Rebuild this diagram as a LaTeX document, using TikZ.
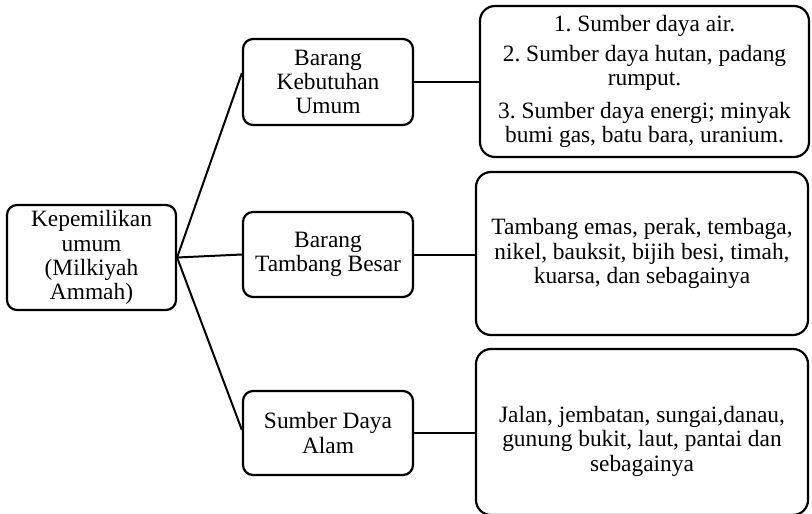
\documentclass[tikz,border=0pt]{standalone}
\usepackage{fontspec}
\setmainfont{Liberation Serif}
\frenchspacing
\begin{document}
\begin{tikzpicture}[x=1pt,y=-1pt,
  every node/.style={font=\fontsize{23.4}{24.2}\selectfont, align=center, inner sep=0pt},
  smallbox/.style={draw, line width=2.2pt, rounded corners=10pt, minimum width=170pt},
  bigbox/.style={draw, line width=2.2pt, rounded corners=15pt},
  conn/.style={line width=2pt}]
\useasboundingbox (0,0) rectangle (812,514);
\node[smallbox, minimum width=169pt, minimum height=105pt] (root) at (91.5,257.5) {Kepemilikan\\umum\\(Milkiyah\\Ammah)};
\node[smallbox, minimum height=86pt] (b1) at (328,82) {Barang\\Kebutuhan\\Umum};
\node[smallbox, minimum height=85pt] (b2) at (328,254.5) {Barang\\Tambang Besar};
\node[smallbox, minimum height=84pt] (b3) at (328,433) {Sumber Daya\\Alam};
\node[bigbox, minimum width=329pt, minimum height=151pt] (r1) at (644.5,81.5)
  {1. Sumber daya air.\\[6pt]2. Sumber daya hutan, padang\\rumput.\\[9pt]3. Sumber daya energi; minyak\\bumi gas, batu bara, uranium.};
\node[bigbox, minimum width=332pt, minimum height=163pt] (r2) at (642,253.5)
  {Tambang emas, perak, tembaga,\\nikel, bauksit, bijih besi, timah,\\kuarsa, dan sebagainya};
\node[bigbox, minimum width=332pt, minimum height=166pt] (r3) at (642,432)
  {\raisebox{-10pt}[\height][\depth]{\begin{tabular}{@{}c@{}}Jalan, jembatan, sungai,danau,\\gunung bukit, laut, pantai dan\\sebagainya\end{tabular}}};
\draw[conn] (root.east) -- ([yshift=9pt]b1.west);
\draw[conn] (root.east) -- (b2.west);
\draw[conn] (root.east) -- ([yshift=3pt]b3.west);
\draw[conn] (b1.east) -- (b1.east -| r1.west);
\draw[conn] (b2.east) -- (b2.east -| r2.west);
\draw[conn] (b3.east) -- (b3.east -| r3.west);
\end{tikzpicture}
\end{document}
